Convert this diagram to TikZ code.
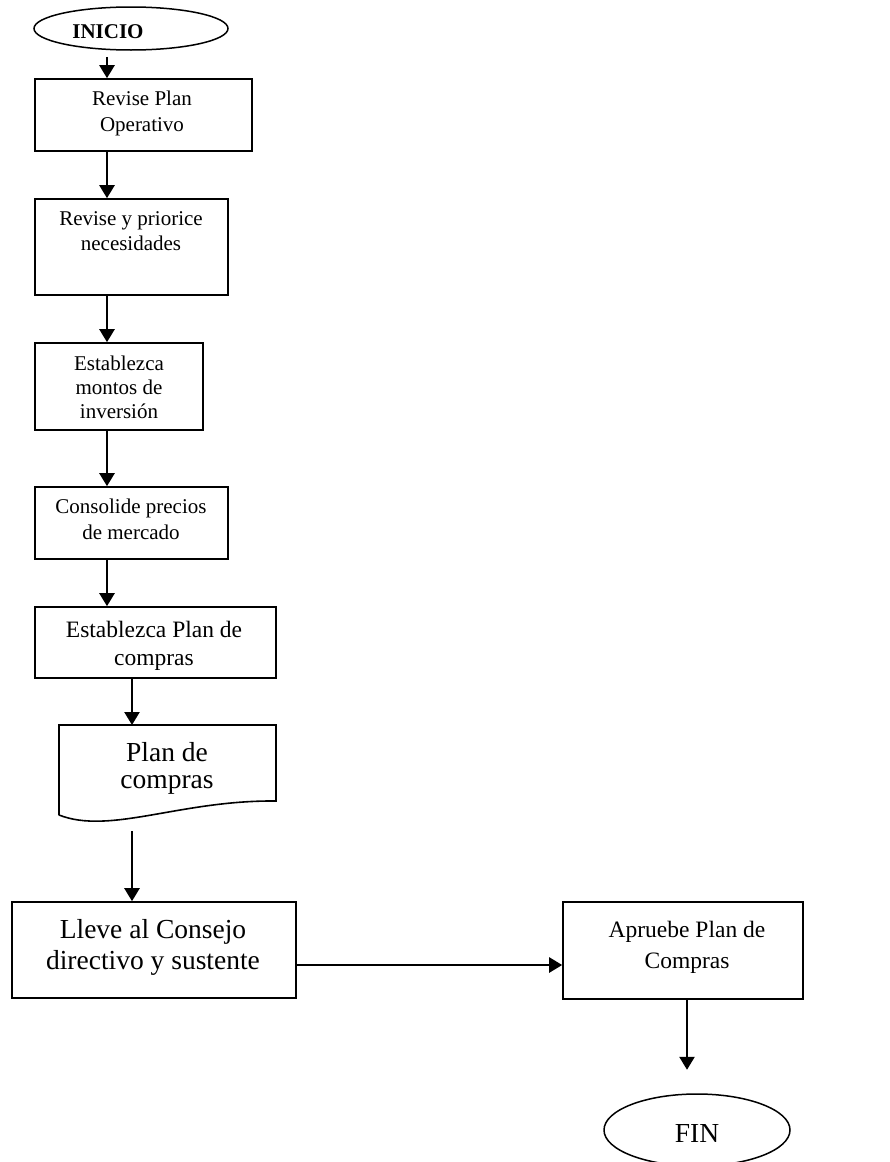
\documentclass[tikz,border=0pt]{standalone}
\usepackage{fontspec}
\setmainfont{Liberation Serif}
\usetikzlibrary{arrows.meta,shapes.geometric}
\begin{document}
\begin{tikzpicture}[x=1pt,y=-1pt,
  box/.style={draw, line width=1.6pt, inner sep=0pt, rectangle},
  term/.style={draw, line width=1.5pt, inner sep=0pt, ellipse},
  arr/.style={line width=2.4pt, -{Triangle[length=13pt,width=15pt]}},
  txt/.style={inner sep=0pt, align=center, anchor=base},
  small/.style={font=\fontsize{21}{26}\selectfont},
  medium/.style={font=\fontsize{23.5}{28}\selectfont},
  large/.style={font=\fontsize{27.5}{28}\selectfont}]
\useasboundingbox (0,0) rectangle (890,1162);

% start / end terminals
\node[term, minimum width=194pt, minimum height=43pt] (ini) at (131,28.5) {};
\node[txt, font=\fontsize{21}{26}\selectfont\bfseries] (tini) at (108,38) {INICIO};
\node[term, minimum width=186pt, minimum height=72pt] (fin) at (697,1130) {};
\node[txt, large] (tfin) at (697,1142) {FIN};

% process boxes
\node[box, minimum width=217pt, minimum height=72pt] (b1) at (143.5,115) {};
\node[box, minimum width=193pt, minimum height=96pt] (b2) at (131.5,247) {};
\node[box, minimum width=168pt, minimum height=87pt] (b3) at (119,386.5) {};
\node[box, minimum width=193pt, minimum height=72pt] (b4) at (131.5,523) {};
\node[box, minimum width=241pt, minimum height=71pt] (b5) at (155.5,642.5) {};
\node[box, minimum width=284pt, minimum height=96pt] (b6) at (154,950) {};
\node[box, minimum width=240pt, minimum height=97pt] (b7) at (683,950.5) {};

% box texts, placed by the baseline of their last line
\node[txt, small] (t1) at (142,131) {Revise Plan\\Operativo};
\node[txt, font=\fontsize{21}{25}\selectfont] (t2) at (131,250) {Revise y priorice\\necesidades};
\node[txt, font=\fontsize{21}{24}\selectfont] (t3) at (119,418) {Establezca\\montos de\\inversión};
\node[txt, small] (t4) at (131,539) {Consolide precios\\de mercado};
\node[txt, medium] (t5) at (154,665) {Establezca Plan de\\compras};
\node[txt, font=\fontsize{27.5}{31}\selectfont] (t6) at (153,969) {Lleve al Consejo\\directivo y sustente};
\node[txt, font=\fontsize{23.5}{31}\selectfont] (t7) at (687,968) {Apruebe Plan de\\Compras};

% document symbol
\coordinate (docT) at (132,725);
\coordinate (docB) at (132,831);
\draw[line width=1.6pt] (59,815) -- (59,725) -- (276,725) -- (276,801)
  .. controls (180,800) and (110,835) .. (59,815);
\node[txt, font=\fontsize{27.5}{27}\selectfont] (tdoc) at (167,788) {Plan de\\compras};

% column of connectors
\coordinate (colA) at (107,0);
\coordinate (colB) at (132,0);
\draw[arr] (ini.south -| colA) ++(0,6) -- (b1.north -| colA);
\draw[arr] (b1.south -| colA) -- (b2.north -| colA);
\draw[arr] (b2.south -| colA) -- (b3.north -| colA);
\draw[arr] (b3.south -| colA) -- (b4.north -| colA);
\draw[arr] (b4.south -| colA) -- (b5.north -| colA);
\draw[arr] (b5.south -| colB) -- (docT);
\draw[arr] (docB) -- (b6.north -| colB);
\draw[arr] (b6.east |- 0,965) -- (b7.west |- 0,965);
\draw[arr] (b7.south -| 687,0) -- ++(0,70);
\end{tikzpicture}
\end{document}
